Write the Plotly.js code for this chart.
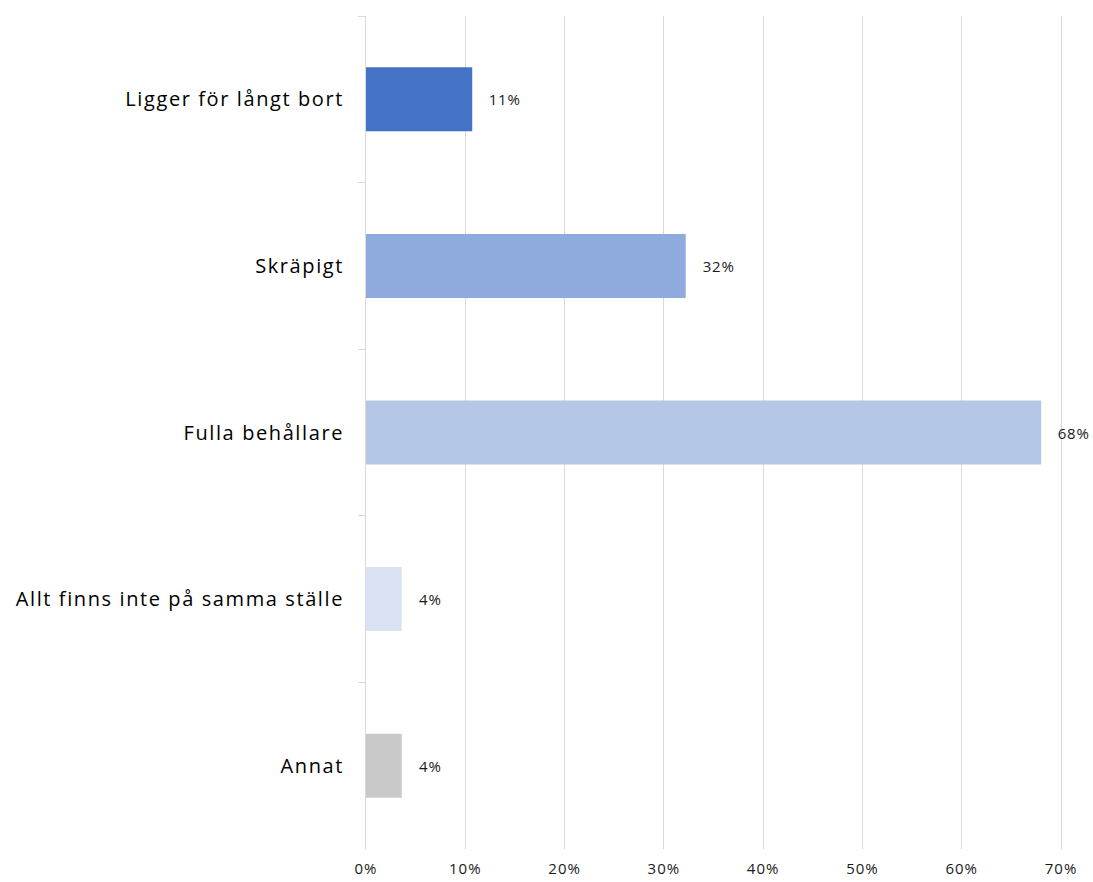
<!DOCTYPE html>
<html>
<head>
<meta charset="utf-8">
<script src="https://cdn.plot.ly/plotly-3.0.1.min.js"></script>
<style>
html,body{margin:0;padding:0;background:#fff;}
#chart{width:1093px;height:882px;}
#chart .ytick text{letter-spacing:1.6px;}
#chart .xtick text{letter-spacing:1px;}
#chart .annotation-text{letter-spacing:0.9px;}
</style>
</head>
<body>
<div id="chart"></div>
<script>
const categories = ["Ligger för långt bort", "Skräpigt", "Fulla behållare", "Allt finns inte på samma ställe", "Annat"];
const values = [10.7, 32.2, 68.0, 3.6, 3.6];
const labels = ["11%", "32%", "68%", "4%", "4%"];
const colors = ["#4472C4", "#8FAADC", "#B4C7E7", "#DAE3F3", "#C9C9C9"];
const xTicks = [0, 10, 20, 30, 40, 50, 60, 70];

const trace = {
  type: "bar",
  orientation: "h",
  x: values,
  y: categories,
  marker: {color: colors},
  hoverinfo: "none"
};

const annotations = categories.map((c, i) => ({
  x: values[i], y: c, xref: "x", yref: "y",
  text: labels[i], showarrow: false,
  xanchor: "left", xshift: 16,
  font: {family: "Open Sans, sans-serif", size: 15, color: "#1a1a1a"}
}));

const layout = {
  width: 1093, height: 882,
  margin: {l: 366, r: 30, t: 16, b: 33},
  paper_bgcolor: "#fff", plot_bgcolor: "#fff",
  showlegend: false,
  bargap: 0.616,
  xaxis: {
    range: [0, 70.2],
    tickvals: xTicks,
    ticktext: xTicks.map(v => v + "%"),
    showgrid: true, gridcolor: "#d9d9d9", gridwidth: 1,
    zeroline: false, showline: false, ticks: "",
    ticklabelstandoff: 9,
    tickfont: {family: "Open Sans, sans-serif", size: 15, color: "#1a1a1a"}
  },
  yaxis: {
    autorange: "reversed",
    showline: true, linecolor: "#d9d9d9", linewidth: 1,
    ticks: "outside", tickson: "boundaries", ticklen: 7, tickcolor: "#d9d9d9",
    showgrid: false, zeroline: false,
    ticklabelstandoff: 17,
    tickfont: {family: "Open Sans, sans-serif", size: 20, color: "#000"}
  },
  annotations: annotations
};

Plotly.newPlot("chart", [trace], layout, {displayModeBar: false, staticPlot: true});
</script>
</body>
</html>
